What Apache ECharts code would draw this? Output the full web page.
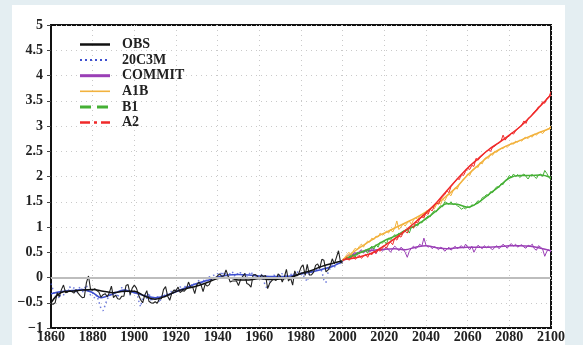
<!DOCTYPE html>
<html>
<head>
<meta charset="utf-8">
<script src="https://cdn.jsdelivr.net/npm/echarts@6/dist/echarts.min.js"></script>
<style>
  html, body { margin: 0; padding: 0; width: 583px; height: 345px; background: #e4eef2; overflow: hidden; }
  #panel { position: absolute; left: 12px; top: 5px; width: 553px; height: 340px; background: #ffffff; }
  #chart { position: absolute; left: 0; top: 0; width: 583px; height: 345px; }
</style>
</head>
<body>
<div id="panel"></div>
<div id="chart"></div>
<script>
// Global mean surface temperature anomaly: observations, 20th century runs and scenarios

// Observed annual anomalies, 1860-2000
const obsStart = 1860;
const obsAnnual = [
  -0.52, -0.53, -0.50, -0.30, -0.38, -0.24, -0.15, -0.30, -0.29, -0.26,
  -0.28, -0.31, -0.24, -0.31, -0.36, -0.40, -0.39, -0.10, 0.03, -0.24,
  -0.25, -0.22, -0.26, -0.29, -0.39, -0.34, -0.32, -0.38, -0.30, -0.17,
  -0.40, -0.35, -0.42, -0.43, -0.37, -0.37, -0.16, -0.14, -0.34, -0.21,
  -0.15, -0.21, -0.34, -0.44, -0.50, -0.35, -0.26, -0.47, -0.50, -0.51,
  -0.48, -0.51, -0.42, -0.42, -0.24, -0.18, -0.37, -0.45, -0.31, -0.25,
  -0.26, -0.19, -0.30, -0.26, -0.27, -0.22, -0.09, -0.19, -0.19, -0.32,
  -0.14, -0.09, -0.14, -0.28, -0.13, -0.17, -0.14, -0.03, 0.00, -0.02,
  0.04, 0.07, 0.02, 0.03, 0.15, 0.03, -0.09, -0.07, -0.07, -0.07,
  -0.16, -0.04, 0.02, 0.08, -0.12, -0.14, -0.19, 0.05, 0.06, 0.03,
  -0.03, 0.05, 0.02, 0.04, -0.22, -0.11, -0.06, -0.02, -0.06, 0.07,
  0.03, -0.09, 0.01, 0.16, -0.07, -0.01, -0.15, 0.13, 0.03, 0.09,
  0.20, 0.25, 0.04, 0.26, 0.05, 0.05, 0.10, 0.24, 0.27, 0.18,
  0.36, 0.34, 0.11, 0.15, 0.23, 0.37, 0.27, 0.40, 0.53, 0.30,
  0.28
];
// Observed, low-pass filtered
const obsSmoothYears = [1860, 1863, 1866, 1870, 1875, 1880, 1885, 1890, 1895, 1900, 1905, 1910, 1915, 1920, 1925, 1930, 1935, 1940, 1945, 1950, 1955, 1960, 1965, 1970, 1975, 1980, 1985, 1990, 1995, 2000];
const obsSmooth = [-0.50, -0.35, -0.28, -0.27, -0.25, -0.24, -0.27, -0.30, -0.27, -0.27, -0.37, -0.43, -0.37, -0.28, -0.22, -0.17, -0.10, -0.02, 0.00, -0.05, -0.05, -0.02, -0.04, -0.03, 0.00, 0.08, 0.14, 0.22, 0.28, 0.33];

// 20th century model runs (20C3M), annual 1860-2000
const c20Annual = [
  -0.12, -0.25, -0.38, -0.30, -0.42, -0.28, -0.35, -0.22, -0.30, -0.18,
  -0.28, -0.20, -0.32, -0.25, -0.18, -0.30, -0.22, -0.15, -0.28, -0.35,
  -0.30, -0.42, -0.35, -0.48, -0.62, -0.66, -0.55, -0.42, -0.38, -0.30,
  -0.35, -0.28, -0.40, -0.25, -0.20, -0.30, -0.22, -0.28, -0.35, -0.25,
  -0.30, -0.26, -0.45, -0.58, -0.40, -0.35, -0.42, -0.30, -0.48, -0.38,
  -0.45, -0.36, -0.50, -0.40, -0.32, -0.38, -0.30, -0.35, -0.25, -0.32,
  -0.22, -0.30, -0.18, -0.26, -0.20, -0.15, -0.22, -0.12, -0.18, -0.10,
  -0.14, -0.05, -0.12, -0.08, -0.02, -0.10, 0.02, -0.04, 0.05, -0.02,
  0.08, 0.00, 0.12, 0.04, 0.10, 0.02, 0.08, 0.12, 0.03, 0.09,
  0.05, 0.10, 0.02, 0.08, 0.00, 0.06, 0.12, 0.03, 0.08, -0.02,
  0.04, 0.06, -0.05, -0.18, -0.22, -0.10, 0.02, 0.05, -0.02, 0.06,
  0.03, 0.08, -0.02, 0.06, 0.00, 0.05, 0.10, 0.02, 0.12, 0.08,
  0.10, 0.05, -0.02, -0.08, 0.06, 0.12, 0.08, 0.18, 0.14, 0.20,
  0.12, -0.05, -0.10, 0.10, 0.18, 0.25, 0.20, 0.28, 0.24, 0.30,
  0.34
];
const c20SmoothYears = [1860, 1865, 1870, 1875, 1880, 1884, 1890, 1895, 1900, 1905, 1910, 1915, 1920, 1925, 1930, 1935, 1940, 1945, 1950, 1955, 1960, 1965, 1970, 1975, 1980, 1985, 1990, 1995, 2000];
const c20Smooth = [-0.32, -0.28, -0.26, -0.24, -0.30, -0.40, -0.32, -0.25, -0.30, -0.36, -0.40, -0.36, -0.28, -0.20, -0.12, -0.06, 0.01, 0.05, 0.06, 0.05, 0.03, 0.02, 0.02, 0.03, 0.07, 0.11, 0.16, 0.22, 0.32];

// Scenario runs, annual 2000-2100
const scenStart = 2000;
const commitAnnual = [
  0.33, 0.38, 0.42, 0.45, 0.38, 0.47, 0.50, 0.44, 0.52, 0.55,
  0.48, 0.53, 0.56, 0.50, 0.58, 0.54, 0.47, 0.55, 0.59, 0.52,
  0.56, 0.60, 0.55, 0.50, 0.57, 0.62, 0.58, 0.53, 0.60, 0.56,
  0.50, 0.40, 0.52, 0.58, 0.62, 0.57, 0.60, 0.66, 0.62, 0.78,
  0.64, 0.60, 0.62, 0.57, 0.61, 0.59, 0.55, 0.60, 0.58, 0.52,
  0.56, 0.60, 0.54, 0.58, 0.62, 0.57, 0.60, 0.63, 0.58, 0.66,
  0.60, 0.55, 0.62, 0.50, 0.58, 0.64, 0.60, 0.57, 0.63, 0.59,
  0.62, 0.58, 0.55, 0.60, 0.63, 0.57, 0.61, 0.66, 0.62, 0.58,
  0.64, 0.67, 0.62, 0.66, 0.60, 0.63, 0.65, 0.60, 0.58, 0.64,
  0.62, 0.66, 0.57, 0.54, 0.63, 0.60, 0.56, 0.42, 0.52, 0.55,
  0.50
];
const a1bAnnual = [
  0.33, 0.40, 0.45, 0.50, 0.44, 0.52, 0.58, 0.55, 0.62, 0.66,
  0.60, 0.68, 0.72, 0.70, 0.78, 0.75, 0.82, 0.80, 0.88, 0.84,
  0.86, 0.92, 0.88, 0.95, 0.90, 0.98, 1.12, 0.95, 1.00, 1.06,
  1.02, 1.08, 1.12, 1.05, 1.14, 1.18, 1.15, 1.22, 1.25, 1.20,
  1.30, 1.28, 1.35, 1.40, 1.36, 1.44, 1.48, 1.45, 1.55, 1.52,
  1.60, 1.65, 1.62, 1.72, 1.78, 1.75, 1.85, 1.90, 1.95, 1.98,
  2.05, 2.02, 2.12, 2.15, 2.20, 2.18, 2.28, 2.25, 2.35, 2.38,
  2.36, 2.45, 2.42, 2.50, 2.48, 2.52, 2.56, 2.55, 2.60, 2.58,
  2.62, 2.66, 2.64, 2.70, 2.68, 2.72, 2.70, 2.76, 2.78, 2.75,
  2.80, 2.78, 2.84, 2.82, 2.86, 2.88, 2.85, 2.90, 2.93, 2.95,
  3.00
];
const b1Annual = [
  0.33, 0.38, 0.42, 0.36, 0.45, 0.44, 0.40, 0.50, 0.48, 0.52,
  0.50, 0.55, 0.48, 0.58, 0.62, 0.56, 0.65, 0.60, 0.70, 0.68,
  0.72, 0.66, 0.78, 0.74, 0.80, 0.85, 0.78, 0.88, 0.84, 0.92,
  0.90, 0.95, 0.88, 1.00, 0.98, 1.05, 1.02, 1.10, 1.08, 1.15,
  1.18, 1.22, 1.20, 1.28, 1.32, 1.30, 1.38, 1.42, 1.40, 1.50,
  1.48, 1.45, 1.50, 1.44, 1.46, 1.42, 1.40, 1.35, 1.38, 1.36,
  1.40, 1.38, 1.44, 1.42, 1.48, 1.52, 1.50, 1.58, 1.60, 1.64,
  1.62, 1.70, 1.68, 1.75, 1.80, 1.78, 1.86, 1.84, 1.92, 1.95,
  2.02, 1.98, 2.05, 2.00, 2.04, 1.98, 2.02, 2.05, 2.00, 1.95,
  2.02, 2.04, 2.00, 1.96, 2.03, 2.05, 2.00, 2.12, 2.06, 1.98,
  1.94
];
const a2Annual = [
  0.33, 0.36, 0.40, 0.34, 0.38, 0.42, 0.36, 0.40, 0.44, 0.38,
  0.42, 0.46, 0.40, 0.48, 0.45, 0.52, 0.48, 0.55, 0.52, 0.58,
  0.62, 0.58, 0.66, 0.70, 0.65, 0.78, 0.74, 0.82, 0.80, 0.88,
  0.92, 0.88, 0.98, 1.02, 0.98, 1.10, 1.08, 1.16, 1.20, 1.18,
  1.28, 1.25, 1.35, 1.32, 1.42, 1.48, 1.45, 1.55, 1.60, 1.64,
  1.72, 1.68, 1.80, 1.85, 1.90, 1.96, 1.94, 2.04, 2.02, 2.10,
  2.16, 2.14, 2.22, 2.20, 2.36, 2.32, 2.38, 2.42, 2.46, 2.50,
  2.52, 2.50, 2.58, 2.60, 2.65, 2.66, 2.70, 2.82, 2.72, 2.78,
  2.80, 2.86, 2.84, 2.90, 2.95, 2.98, 3.02, 3.10, 3.05, 3.15,
  3.18, 3.22, 3.28, 3.32, 3.38, 3.40, 3.48, 3.45, 3.55, 3.58,
  3.68
];

// Scenario runs, low-pass filtered (every 5 years)
const scenSmoothYears = [2000, 2005, 2010, 2015, 2020, 2025, 2030, 2035, 2040, 2045, 2050, 2055, 2060, 2065, 2070, 2075, 2080, 2085, 2090, 2095, 2100];
const commitSmooth = [0.33, 0.45, 0.52, 0.54, 0.56, 0.57, 0.55, 0.60, 0.63, 0.59, 0.57, 0.59, 0.60, 0.60, 0.60, 0.61, 0.63, 0.63, 0.62, 0.58, 0.53];
const a1bSmooth = [0.35, 0.50, 0.64, 0.77, 0.88, 0.98, 1.08, 1.18, 1.30, 1.45, 1.62, 1.80, 2.03, 2.22, 2.40, 2.53, 2.63, 2.71, 2.80, 2.88, 2.96];
const b1Smooth = [0.35, 0.43, 0.52, 0.61, 0.73, 0.82, 0.93, 1.03, 1.16, 1.32, 1.46, 1.45, 1.39, 1.48, 1.64, 1.80, 1.97, 2.02, 2.02, 2.03, 1.98];
const a2Smooth = [0.35, 0.38, 0.43, 0.50, 0.63, 0.77, 0.93, 1.10, 1.28, 1.48, 1.72, 1.95, 2.17, 2.35, 2.53, 2.67, 2.82, 2.98, 3.18, 3.40, 3.62];

// Axis ticks
const xTicks = [1860, 1880, 1900, 1920, 1940, 1960, 1980, 2000, 2020, 2040, 2060, 2080, 2100];
const yTicks = [-1, -0.5, 0, 0.5, 1, 1.5, 2, 2.5, 3, 3.5, 4, 4.5, 5];

// Legend entries
const legendNames = ['OBS', '20C3M', 'COMMIT', 'A1B', 'B1', 'A2'];

const colors = {
  OBS: '#111111',
  C20: '#3d4fd0',
  COMMIT: '#9a3fb6',
  A1B: '#f2b23e',
  B1: '#45b035',
  A2: '#f02a2a'
};

function annualPairs(start, vals) {
  return vals.map((v, i) => [start + i, v]);
}
function pairs(years, vals) {
  return years.map((y, i) => [y, vals[i]]);
}

const FONT = '"Liberation Serif", "DejaVu Serif", serif';

function thin(name, data, lineStyle) {
  return { name: name, type: 'line', data: data, symbol: 'none', silent: true, lineStyle: lineStyle };
}
function smooth(name, data, color, width) {
  return {
    name: name, type: 'line', data: data, symbol: 'none', silent: true, smooth: 0.35,
    lineStyle: { color: color, width: width }
  };
}

const series = [
  // zero reference line
  {
    type: 'line', data: [], silent: true,
    markLine: {
      silent: true, symbol: 'none', label: { show: false },
      lineStyle: { color: '#bdbdbd', width: 2, type: 'solid' },
      data: [{ yAxis: 0 }]
    }
  },
  thin('20C3M', annualPairs(obsStart, c20Annual), { color: colors.C20, width: 1.5, type: [1.5, 3], opacity: 0.75 }),
  smooth('20C3M smooth', pairs(c20SmoothYears, c20Smooth), colors.C20, 1.6),
  thin('OBS', annualPairs(obsStart, obsAnnual), { color: '#222', width: 1.1 }),
  smooth('OBS smooth', pairs(obsSmoothYears, obsSmooth), colors.OBS, 1.5),
  thin('COMMIT', annualPairs(scenStart, commitAnnual), { color: colors.COMMIT, width: 1 }),
  smooth('COMMIT smooth', pairs(scenSmoothYears, commitSmooth), colors.COMMIT, 1.5),
  thin('B1', annualPairs(scenStart, b1Annual), { color: colors.B1, width: 1 }),
  smooth('B1 smooth', pairs(scenSmoothYears, b1Smooth), colors.B1, 1.5),
  thin('A1B', annualPairs(scenStart, a1bAnnual), { color: colors.A1B, width: 1 }),
  smooth('A1B smooth', pairs(scenSmoothYears, a1bSmooth), colors.A1B, 1.5),
  thin('A2', annualPairs(scenStart, a2Annual), { color: colors.A2, width: 1 }),
  smooth('A2 smooth', pairs(scenSmoothYears, a2Smooth), colors.A2, 1.5)
];

// Legend drawn as sample strokes plus labels, above the grid lines
const legendStyles = {
  'OBS': { stroke: colors.OBS, lineWidth: 2.5, lineDash: 'solid' },
  '20C3M': { stroke: colors.C20, lineWidth: 2, lineDash: [2, 3] },
  'COMMIT': { stroke: colors.COMMIT, lineWidth: 3, lineDash: 'solid' },
  'A1B': { stroke: colors.A1B, lineWidth: 1.6, lineDash: 'solid' },
  'B1': { stroke: colors.B1, lineWidth: 3, lineDash: [11, 6] },
  'A2': { stroke: colors.A2, lineWidth: 2.5, lineDash: [10, 4, 3, 4] }
};
const legendGraphics = [];
legendNames.forEach((name, i) => {
  const y = 44.5 + i * 15.6;
  legendGraphics.push({
    type: 'line', id: 'legend-line-' + name, silent: true, z: 100,
    shape: { x1: 80, y1: y, x2: 110, y2: y },
    style: legendStyles[name]
  });
  legendGraphics.push({
    type: 'text', id: 'legend-text-' + name, silent: true, z: 100, x: 122, y: y,
    style: { text: name, font: 'bold 14px ' + FONT, fill: '#222', textVerticalAlign: 'middle' }
  });
});

const chart = echarts.init(document.getElementById('chart'), null, { renderer: 'canvas' });
chart.setOption({
  animation: false,
  backgroundColor: 'transparent',
  grid: { left: 51, top: 25, width: 500, height: 303, show: true, borderColor: '#111', borderWidth: 2, backgroundColor: 'transparent' },
  xAxis: {
    type: 'value', min: xTicks[0], max: xTicks[xTicks.length - 1], interval: 20,
    axisLine: { show: true, lineStyle: { color: '#111', width: 2 } },
    axisTick: { show: false },
    axisLabel: { color: '#222', fontFamily: FONT, fontWeight: 'bold', fontSize: 14, margin: 2, formatter: v => String(v) },
    splitLine: { show: true, lineStyle: { color: '#c9c9c9', type: [1, 4], width: 1 } }
  },
  yAxis: {
    type: 'value', min: yTicks[0], max: yTicks[yTicks.length - 1], interval: 0.5,
    axisLine: { show: true, lineStyle: { color: '#111', width: 2 } },
    axisTick: { show: true, length: 4, lineStyle: { color: '#444', width: 1 } },
    axisLabel: { color: '#222', fontFamily: FONT, fontWeight: 'bold', fontSize: 14, margin: 8, formatter: v => String(v).replace('-', '\u2212') },
    splitLine: { show: true, lineStyle: { color: '#c9c9c9', type: [1, 4], width: 1 } }
  },
  graphic: legendGraphics,
  series: series
});
</script>
</body>
</html>
